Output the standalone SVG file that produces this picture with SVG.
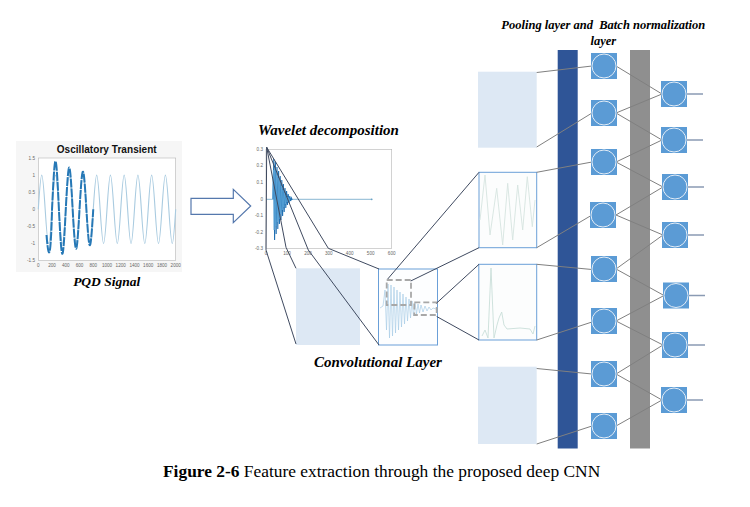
<svg xmlns="http://www.w3.org/2000/svg" width="750" height="507" viewBox="0 0 750 507">
<style>
.ttl{font-family:"Liberation Serif","Times New Roman",serif;font-weight:bold;font-style:italic;fill:#000}
.cap{font-family:"Liberation Serif","Times New Roman",serif;font-size:17.4px;fill:#000}
.tick{font-family:"Liberation Sans",Arial,sans-serif;font-size:4.6px;fill:#666}
.ax{fill:#fff;stroke:#b5b5b5;stroke-width:0.6}
.zl{stroke:#3f4a60;stroke-width:1;fill:none}
.nl{stroke:#808080;stroke-width:1;fill:none}
.ol{stroke:#8a9ab3;stroke-width:1.5}
.lb{fill:#dde8f4}
.fb{fill:#fcfdfd;stroke:#6a9fd8;stroke-width:1}
.sq{fill:#5b9bd5}
.ci{fill:#5b9bd5;stroke:#e3ecf6;stroke-width:1}
.dash{fill:none;stroke:#a8a8a8;stroke-width:1.8;stroke-dasharray:6 3}
</style>
<rect width="750" height="507" fill="#fff"/>

<g id="pqd-signal">
  <rect x="16" y="141" width="166" height="131" fill="#f6f6f6"/>
  <text x="106.7" y="152.5" text-anchor="middle" font-family="Liberation Sans,Arial,sans-serif" font-weight="bold" font-size="10" textLength="100" fill="#111">Oscillatory Transient</text>
  <rect class="ax" x="38.3" y="158" width="137.4" height="102.6"/>
  <g class="tick" text-anchor="end">
    <text x="35" y="159.5">1.5</text><text x="35" y="176.6">1</text><text x="35" y="193.7">0.5</text><text x="35" y="210.8">0</text><text x="35" y="227.9">-0.5</text><text x="35" y="245">-1</text><text x="35" y="262.1">-1.5</text>
  </g>
  <g class="tick" text-anchor="middle">
    <text x="38.3" y="266.5">0</text><text x="52" y="266.5">200</text><text x="65.8" y="266.5">400</text><text x="79.5" y="266.5">600</text><text x="93.3" y="266.5">800</text><text x="107" y="266.5">1000</text><text x="120.7" y="266.5">1200</text><text x="134.5" y="266.5">1400</text><text x="148.2" y="266.5">1600</text><text x="162" y="266.5">1800</text><text x="175.7" y="266.5">2000</text>
  </g>
  <path fill="none" stroke="#a9cbe0" stroke-width="1.1" d="M38.3,209.3 c2.92,-45.6 3.95,-45.6 6.87,0 c2.92,45.6 3.95,45.6 6.87,0 c2.92,-45.6 3.95,-45.6 6.87,0 c2.92,45.6 3.95,45.6 6.87,0 c2.92,-45.6 3.95,-45.6 6.87,0 c2.92,45.6 3.95,45.6 6.87,0 c2.92,-45.6 3.95,-45.6 6.87,0 c2.92,45.6 3.95,45.6 6.87,0 c2.92,-45.6 3.95,-45.6 6.87,0 c2.92,45.6 3.95,45.6 6.87,0 c2.92,-45.6 3.95,-45.6 6.87,0 c2.92,45.6 3.95,45.6 6.87,0 c2.92,-45.6 3.95,-45.6 6.87,0 c2.92,45.6 3.95,45.6 6.87,0 c2.92,-45.6 3.95,-45.6 6.87,0 c2.92,45.6 3.95,45.6 6.87,0 c2.92,-45.6 3.95,-45.6 6.87,0 c2.92,45.6 3.95,45.6 6.87,0 c2.92,-45.6 3.95,-45.6 6.87,0 c2.92,45.6 3.95,45.6 6.87,0"/>
  <path fill="none" stroke="#2678b6" stroke-width="2" stroke-dasharray="9 1" d="M46.5,235 c1.6,20 3.95,35 5.54,-25.7 c2.92,-63.8 3.95,-63.8 6.87,0 c2.92,59.3 3.95,59.3 6.87,0 c2.92,-55.6 3.95,-55.6 6.87,0 c2.92,52.4 3.95,52.4 6.87,0 c2.92,-50.2 3.95,-50.2 6.87,0 c2.92,47.9 3.95,47.9 6.87,0"/>
  <text class="ttl" x="106.7" y="285.5" text-anchor="middle" font-size="13.5">PQD Signal</text>
</g>

<g id="arrow">
  <path d="M191,198.3 H233.3 V189.3 L250.7,206 L233.3,222.7 V214.3 H191 Z" fill="#fff" stroke="#5578ad" stroke-width="1.2"/>
</g>

<g id="wavelet">
  <text class="ttl" x="258" y="135" font-size="15">Wavelet decomposition</text>
  <rect class="ax" x="266" y="149.3" width="125.7" height="99"/>
  <g class="tick" text-anchor="end">
    <text x="263" y="150.8">0.3</text><text x="263" y="167.3">0.2</text><text x="263" y="183.8">0.1</text><text x="263" y="200.8">0</text><text x="263" y="217.3">-0.1</text><text x="263" y="233.8">-0.2</text><text x="263" y="249.8">-0.3</text>
  </g>
  <g class="tick" text-anchor="middle">
    <text x="266" y="254.5">0</text><text x="287" y="254.5">100</text><text x="308" y="254.5">200</text><text x="328.8" y="254.5">300</text><text x="349.7" y="254.5">400</text><text x="370.7" y="254.5">500</text><text x="391.7" y="254.5">600</text>
  </g>
  <line x1="266" y1="199.3" x2="371.7" y2="199.3" stroke="#6aa3c6" stroke-width="0.8"/>
  <circle cx="371.7" cy="199.3" r="0.9" fill="#6aa3c6"/>
  <polyline fill="none" stroke="#1f6fb2" stroke-width="1.1" points="273,199 273.8,159 274.6,240 275.4,162 276.2,234 277,167 277.8,229 278.6,171 279.4,224 280.2,176 281,220 281.8,180 282.6,216 283.4,184 284.2,212 285,188 285.8,208 286.6,191 287.4,205 288.2,194 289,203 289.8,196 290.6,201 291.4,198 292.2,200"/>
  <polyline fill="none" stroke="#5aa5d8" stroke-width="0.8" points="272.5,199 273.4,170 274.2,230 275,168 275.8,226 276.6,175 277.4,222 278.2,178 279,219 279.8,182 280.6,214 281.4,186 282.2,210 283,190 283.8,207 284.6,193 285.4,204 286.2,195 287,202 288,197 289,201 290,198"/>
</g>

<g id="conv-left-map">
  <rect class="lb" x="296" y="268.3" width="64" height="76.7"/>
</g>

<g id="conv-map">
  <rect x="378.5" y="269" width="59" height="76" fill="#fdfeff" stroke="#6a9fd8" stroke-width="1"/>
  <polyline fill="none" stroke="#a9cde6" stroke-width="0.7" points="380,308 383,306 385,290 386.5,330 388,284 389.5,338 391,285 392.5,336 394,287 395.5,333 397,290 398.5,330 400,292 401.5,327 403,294 404.5,324 406,297 407.5,321 409,299 410.5,318 412,301 413.5,316 415,303 416.5,314 418,304 419.5,313 421,305 423,312 425,306 427,311 429,307 431,310 433,308 436,309"/>
  <rect class="dash" x="386.7" y="280" width="24.3" height="25"/>
  <rect class="dash" x="414.3" y="302.3" width="22.4" height="12.7"/>
</g>

<text class="ttl" x="314" y="367" font-size="15">Convolutional Layer</text>

<g id="feature-map-1"><rect class="lb" x="478" y="71.7" width="58.7" height="76"/></g>
<g id="feature-map-2">
  <rect class="fb" x="479" y="172.3" width="57.7" height="75.4"/>
  <polyline fill="none" stroke="#d6e4e0" stroke-width="0.9" points="480,220 485,175 490,235 496.7,188.3 502.7,245 507.7,183.3 512.7,240 517.7,185 522.7,230 527.3,176.7 532.3,226.7 535,200"/>
</g>
<g id="feature-map-3">
  <rect class="fb" x="478.8" y="264.3" width="57.9" height="75.7"/>
  <polyline fill="none" stroke="#c9dfd9" stroke-width="0.9" points="482,336 485,330 488,338 491,268 494,338 497,325 499,318 501.7,312 504,325 507,329 520,328 530,329 533,334 535,326"/>
</g>
<g id="feature-map-4"><rect class="lb" x="478" y="366.7" width="58.7" height="77.3"/></g>

<text class="ttl" x="603.3" y="29.3" text-anchor="middle" font-size="12.5" xml:space="preserve">Pooling layer and  Batch normalization</text>
<text class="ttl" x="603.3" y="45" text-anchor="middle" font-size="12.5">layer</text>

<g id="pooling-bar"><rect x="557.7" y="50" width="20" height="398.5" fill="#2f5597"/></g>
<g id="batchnorm-bar"><rect x="630" y="50" width="20" height="398.5" fill="#8f8f8f"/></g>

<g id="connectors">
  <polyline class="zl" points="266.7,147.3 328.3,248.3 379,269"/>
  <polyline class="zl" points="266.7,147.3 308.3,250 379,345"/>
  <polyline class="zl" points="266.7,147.3 286,247.3 296,268.3"/>
  <polyline class="zl" points="266.7,147.3 266,250 296,344"/>
  <line class="zl" x1="387.7" y1="279" x2="479" y2="172.3"/>
  <line class="zl" x1="410.7" y1="281" x2="479" y2="247.7"/>
  <line class="zl" x1="436.7" y1="303" x2="479" y2="264.3"/>
  <line class="zl" x1="436.7" y1="316.5" x2="479" y2="340"/>
  <line class="nl" x1="536.7" y1="72.5" x2="592" y2="66"/>
  <line class="nl" x1="536.7" y1="147" x2="592" y2="113"/>
  <line class="nl" x1="536.7" y1="172.3" x2="592" y2="162"/>
  <line class="nl" x1="536.7" y1="247.7" x2="592" y2="215"/>
  <line class="nl" x1="536.7" y1="264.3" x2="592" y2="269.5"/>
  <line class="nl" x1="536.7" y1="340" x2="592" y2="322"/>
  <line class="nl" x1="536.7" y1="368.5" x2="592" y2="374"/>
  <line class="nl" x1="536.7" y1="444" x2="592" y2="426"/>
  <line class="nl" x1="616" y1="66" x2="662" y2="94"/>
  <line class="nl" x1="616" y1="113" x2="662" y2="94"/>
  <line class="nl" x1="616" y1="113" x2="662" y2="140"/>
  <line class="nl" x1="616" y1="162" x2="662" y2="140"/>
  <line class="nl" x1="616" y1="162" x2="663" y2="187"/>
  <line class="nl" x1="616" y1="215" x2="663" y2="187"/>
  <line class="nl" x1="616" y1="215" x2="663" y2="235"/>
  <line class="nl" x1="616" y1="269" x2="663" y2="235"/>
  <line class="nl" x1="616" y1="269" x2="664" y2="295.5"/>
  <line class="nl" x1="616" y1="321" x2="664" y2="295.5"/>
  <line class="nl" x1="616" y1="321" x2="663" y2="345"/>
  <line class="nl" x1="616" y1="374" x2="663" y2="345"/>
  <line class="nl" x1="616" y1="374" x2="662" y2="400"/>
  <line class="nl" x1="616" y1="426" x2="662" y2="400"/>
  <line class="ol" x1="687" y1="94" x2="703" y2="94"/>
  <line class="ol" x1="687" y1="140" x2="703" y2="140"/>
  <line class="ol" x1="688" y1="187" x2="704" y2="187"/>
  <line class="ol" x1="688" y1="235" x2="704" y2="235"/>
  <line class="ol" x1="689" y1="295.5" x2="705" y2="295.5"/>
  <line class="ol" x1="688" y1="345" x2="705" y2="345"/>
  <line class="ol" x1="687" y1="400" x2="703" y2="400"/>
</g>

<g id="pool-node-1"><rect class="sq" x="591" y="53" width="26" height="26"/><circle class="ci" cx="604" cy="66" r="12"/></g>
<g id="pool-node-2"><rect class="sq" x="591" y="100" width="26" height="26"/><circle class="ci" cx="604" cy="113" r="12"/></g>
<g id="pool-node-3"><rect class="sq" x="591" y="149" width="26" height="26"/><circle class="ci" cx="604" cy="162" r="12"/></g>
<g id="pool-node-4"><rect class="sq" x="590" y="202" width="26" height="26"/><circle class="ci" cx="603" cy="215" r="12"/></g>
<g id="pool-node-5"><rect class="sq" x="591" y="256" width="26" height="26"/><circle class="ci" cx="604" cy="269" r="12"/></g>
<g id="pool-node-6"><rect class="sq" x="591" y="308" width="26" height="26"/><circle class="ci" cx="604" cy="321" r="12"/></g>
<g id="pool-node-7"><rect class="sq" x="591" y="361" width="26" height="26"/><circle class="ci" cx="604" cy="374" r="12"/></g>
<g id="pool-node-8"><rect class="sq" x="591" y="413" width="26" height="26"/><circle class="ci" cx="604" cy="426" r="12"/></g>

<g id="bn-node-1"><rect class="sq" x="661" y="81" width="26" height="26"/><circle class="ci" cx="674" cy="94" r="12"/></g>
<g id="bn-node-2"><rect class="sq" x="661" y="127" width="26" height="26"/><circle class="ci" cx="674" cy="140" r="12"/></g>
<g id="bn-node-3"><rect class="sq" x="662" y="174" width="26" height="26"/><circle class="ci" cx="675" cy="187" r="12"/></g>
<g id="bn-node-4"><rect class="sq" x="662" y="222" width="26" height="26"/><circle class="ci" cx="675" cy="235" r="12"/></g>
<g id="bn-node-5"><rect class="sq" x="663" y="282.5" width="26" height="26"/><circle class="ci" cx="676" cy="295.5" r="12"/></g>
<g id="bn-node-6"><rect class="sq" x="662" y="332" width="26" height="26"/><circle class="ci" cx="675" cy="345" r="12"/></g>
<g id="bn-node-7"><rect class="sq" x="661" y="387" width="26" height="26"/><circle class="ci" cx="674" cy="400" r="12"/></g>

<text class="cap" x="163" y="476.5"><tspan font-weight="bold">Figure 2-6</tspan> Feature extraction through the proposed deep CNN</text>
</svg>
